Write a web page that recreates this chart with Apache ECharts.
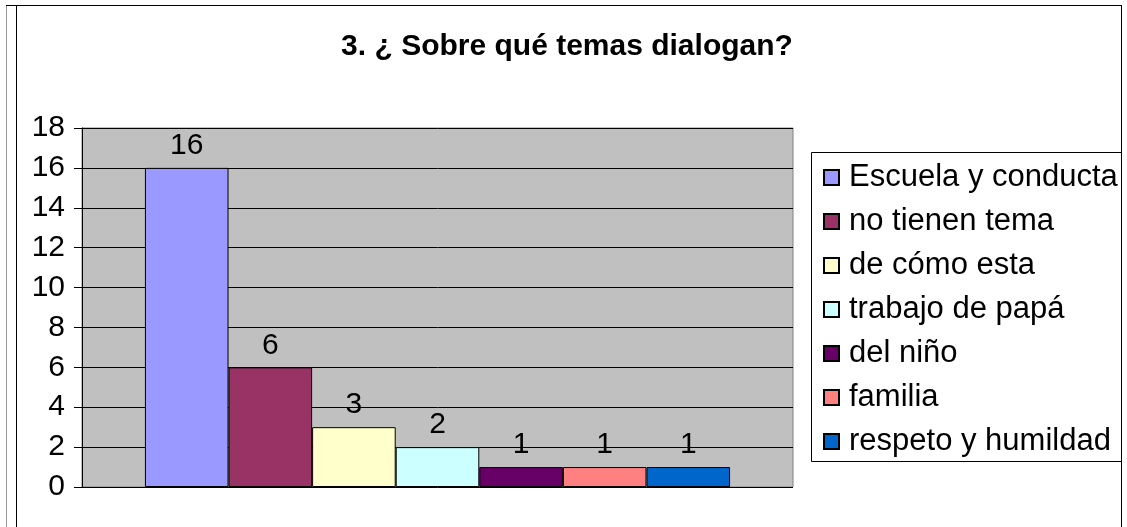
<!DOCTYPE html>
<html>
<head>
<meta charset="utf-8">
<script src="https://cdn.jsdelivr.net/npm/echarts@6/dist/echarts.min.js"></script>
<style>
  html, body { margin: 0; padding: 0; background: #fff; }
  #chart { width: 1127px; height: 527px; }
</style>
</head>
<body>
<div id="chart"></div>
<script>
// datos
var temas = ["Escuela y conducta", "no tienen tema", "de cómo esta", "trabajo de papá", "del niño", "familia", "respeto y humildad"];
var respuestas = [16, 6, 3, 2, 1, 1, 1];
var colores = ["#9999FF", "#993366", "#FFFFCC", "#CCFFFF", "#660066", "#FF8080", "#0066CC"];
var yTicks = [0, 2, 4, 6, 8, 10, 12, 14, 16, 18];

var font = "Liberation Sans, Arial, sans-serif";

var series = temas.map(function (t, i) {
  return {
    name: t,
    type: "bar",
    data: [respuestas[i]],
    barGap: "0%",
    barCategoryGap: "17.7%",
    itemStyle: { color: colores[i], borderColor: "#000", borderWidth: 1 },
    label: {
      show: true,
      position: "top",
      distance: 7,
      color: "#000",
      fontFamily: font,
      fontSize: 30
    }
  };
});

var chart = echarts.init(document.getElementById("chart"));
chart.setOption({
  animation: false,
  backgroundColor: "#fff",
  title: {
    text: "3. ¿ Sobre qué temas dialogan?",
    left: 562,
    textAlign: "center",
    top: 27,
    textStyle: { fontFamily: font, fontSize: 30, fontWeight: "bold", color: "#000" }
  },
  grid: {
    left: 82, top: 128, right: 334, bottom: 40,
    show: true, backgroundColor: "#C0C0C0", borderColor: "#808080", borderWidth: 1
  },
  xAxis: {
    type: "category",
    data: [""],
    axisLine: { show: false },
    axisTick: { show: false },
    axisLabel: { show: false }
  },
  yAxis: {
    type: "value",
    min: yTicks[0],
    max: yTicks[yTicks.length - 1],
    interval: 2,
    axisLine: { show: true, lineStyle: { color: "#000" } },
    axisTick: { show: true, length: 8, lineStyle: { color: "#000" } },
    axisLabel: { color: "#000", fontFamily: font, fontSize: 30, margin: 17 },
    splitLine: { show: true, lineStyle: { color: "#000", width: 1 } }
  },
  legend: {
    orient: "vertical",
    left: 823,
    top: 162,
    itemWidth: 15,
    itemHeight: 15,
    itemGap: 13,
    icon: "rect",
    padding: 0,
    textStyle: { fontFamily: font, fontSize: 31, color: "#000", lineHeight: 30, padding: [0, 0, 0, 5] },
    data: temas
  },
  graphic: [
    { type: "rect", shape: { x: 811.5, y: 152.5, width: 310, height: 309 },
      style: { fill: "none", stroke: "#000", lineWidth: 1 }, z: 100 },
    { type: "line", shape: { x1: 6.5, y1: 5, x2: 6.5, y2: 527 }, style: { stroke: "#999", lineWidth: 1 } },
    { type: "line", shape: { x1: 16.5, y1: 5, x2: 16.5, y2: 527 }, style: { stroke: "#000", lineWidth: 1 } },
    { type: "line", shape: { x1: 6, y1: 5.5, x2: 1122, y2: 5.5 }, style: { stroke: "#000", lineWidth: 1 } },
    { type: "line", shape: { x1: 1121.5, y1: 5, x2: 1121.5, y2: 527 }, style: { stroke: "#000", lineWidth: 1 } }
  ],
  series: series
});
</script>
</body>
</html>
